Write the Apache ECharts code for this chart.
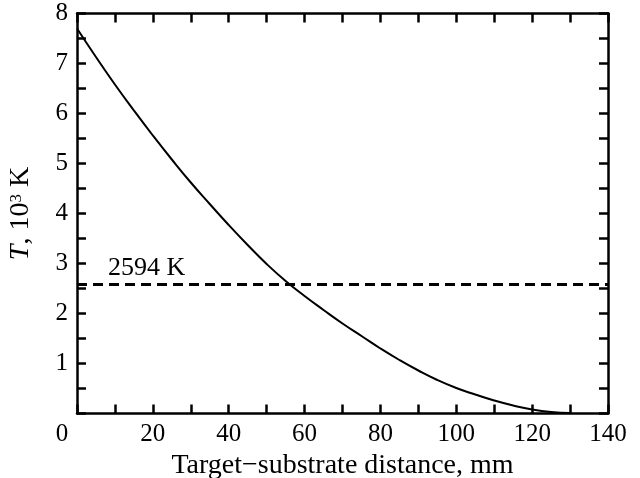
<!DOCTYPE html>
<html>
<head>
<meta charset="utf-8">
<script src="https://cdn.jsdelivr.net/npm/echarts@6/dist/echarts.min.js"></script>
<style>
  html, body { margin: 0; padding: 0; background: #fff; }
  #chart { width: 640px; height: 478px; }
</style>
</head>
<body>
<div id="chart"></div>
<script>
// distance from target, mm
const distance = [0, 5, 10, 15, 20, 25, 30, 35, 40, 45, 50, 55, 60, 65,
  70, 75, 80, 85, 90, 95, 100, 105, 110, 115, 120, 125, 130]
// temperature, 10^3 K
const temperature = [7.70, 7.13, 6.58, 6.06, 5.56, 5.08, 4.62, 4.19, 3.77, 3.37,
  2.99, 2.65, 2.35, 2.07, 1.80, 1.55, 1.30, 1.07, 0.86, 0.67,
  0.51, 0.38, 0.26, 0.16, 0.08, 0.03, 0.01]
const thresholdK = 2594

const serif = 'Liberation Serif'
const fsTick = 25
const fsName = 28

const myChart = echarts.init(document.getElementById('chart'))

const axisCommon = {
  type: 'value',
  axisLine: { show: true, onZero: false, lineStyle: { color: '#000', width: 2.5 } },
  axisTick: { show: true, inside: true, length: 9, lineStyle: { color: '#000', width: 2.5 } },
  splitLine: { show: false }
}

const option = {
  backgroundColor: '#fff',
  animation: false,
  grid: { left: 77, right: 32, top: 13.5, bottom: 64.5, containLabel: false, outerBoundsMode: 'none' },
  xAxis: [
    {
      ...axisCommon,
      position: 'bottom',
      min: 0, max: 140, interval: 10,
      name: 'Target\u2212substrate distance, mm',
      nameLocation: 'middle',
      nameGap: 37,
      nameTextStyle: { fontFamily: serif, fontSize: fsName, color: '#000' },
      axisLabel: {
        fontFamily: serif, fontSize: fsTick, color: '#000', margin: 8,
        formatter: v => v === 0 ? '{z|0}' : (v % 20 === 0 ? String(v) : ''),
        rich: { z: { fontFamily: serif, fontSize: fsTick, color: '#000', padding: [0, 30, 0, 0] } }
      }
    },
    {
      ...axisCommon,
      position: 'top',
      min: 0, max: 140, interval: 10,
      axisLabel: { show: false }
    }
  ],
  yAxis: [
    {
      ...axisCommon,
      position: 'left',
      min: 0, max: 8, interval: 0.5,
      name: '{i|T}, 10{s|3} K',
      nameLocation: 'middle',
      nameGap: 42,
      nameTextStyle: {
        fontFamily: serif, fontSize: fsName, color: '#000',
        rich: {
          i: { fontFamily: serif, fontSize: fsName, fontStyle: 'italic', color: '#000' },
          s: { fontFamily: serif, fontSize: 17, color: '#000', verticalAlign: 'bottom', padding: [0, 0, 10, 0] }
        }
      },
      axisLabel: {
        fontFamily: serif, fontSize: fsTick, color: '#000', margin: 9,
        formatter: v => (v > 0 && Number.isInteger(v)) ? String(v) : ''
      }
    },
    {
      ...axisCommon,
      position: 'right',
      min: 0, max: 8, interval: 0.5,
      axisLabel: { show: false }
    }
  ],
  series: [
    {
      type: 'line',
      data: distance.map((d, i) => [d, temperature[i]]),
      smooth: true,
      showSymbol: false,
      lineStyle: { color: '#000', width: 2 },
      markLine: {
        silent: true,
        symbol: ['none', 'none'],
        lineStyle: { color: '#000', width: 3, type: [10, 6] },
        label: {
          position: 'insideStartTop',
          distance: [31, 3],
          formatter: thresholdK + ' K',
          fontFamily: serif, fontSize: 26, color: '#000'
        },
        data: [{ yAxis: thresholdK / 1000 }]
      }
    }
  ]
}

myChart.setOption(option)
</script>
</body>
</html>
